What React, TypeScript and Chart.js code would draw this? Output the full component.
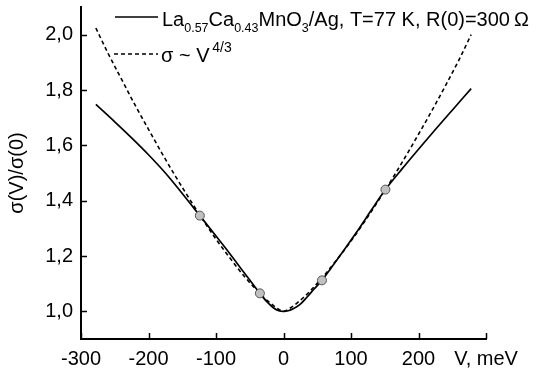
import React, { useEffect, useRef } from "react";
import { Chart, registerables } from "chart.js";

Chart.register(...registerables);

const xTickValues = [-300, -200, -100, 0, 100, 200, 300];
const yTickValues = [1.0, 1.2, 1.4, 1.6, 1.8, 2.0];
const xAxisLabel = "V, meV";
const yAxisLabel = "σ(V)/σ(0)";

const measuredV = [-278, -250, -225, -200, -175, -150, -124, -100, -80, -60, -45, -35, -25, -15, -7, 0, 7, 15, 25, 35, 45, 57, 70, 90, 110, 130, 151, 175, 200, 225, 250, 278];
const measuredSigma = [1.748, 1.685, 1.627, 1.566, 1.5, 1.426, 1.346, 1.272, 1.21, 1.145, 1.097, 1.065, 1.036, 1.013, 1.002, 1.0, 1.002, 1.01, 1.026, 1.052, 1.08, 1.112, 1.155, 1.223, 1.292, 1.365, 1.44, 1.513, 1.586, 1.657, 1.727, 1.805];

const fitV = [-278, -260, -240, -220, -200, -180, -160, -140, -120, -100, -80, -60, -40, -30, -20, -10, 0, 10, 20, 30, 40, 60, 80, 100, 120, 140, 160, 180, 200, 220, 240, 260, 278];
const fitSigma = [2.024, 1.933, 1.839, 1.746, 1.658, 1.571, 1.488, 1.409, 1.333, 1.261, 1.195, 1.132, 1.077, 1.052, 1.031, 1.012, 1.0, 1.012, 1.03, 1.051, 1.075, 1.129, 1.19, 1.254, 1.324, 1.398, 1.475, 1.556, 1.64, 1.726, 1.816, 1.909, 2.0];

const markerV = [-124, -35, 57, 151];
const markerSigma = [1.346, 1.065, 1.112, 1.44];

const legendMeasured: [string, string][] = [
  ["La", ""], ["0.57", "sub"], ["Ca", ""], ["0.43", "sub"], ["MnO", ""], ["3", "sub"], ["/Ag, T=77 K, R(0)=300\u2009Ω", ""],
];
const legendFit: [string, string][] = [["σ ~ V", ""], ["\u20094/3", "sup"]];

const FONT = "'Liberation Sans', Arial, sans-serif";

function drawRich(ctx: CanvasRenderingContext2D, x: number, baseline: number, segs: [string, string][], size: number, small: number) {
  let cx = x;
  ctx.textBaseline = "alphabetic";
  ctx.textAlign = "left";
  for (const [t, mode] of segs) {
    const fs = mode ? small : size;
    ctx.font = `${fs}px ${FONT}`;
    const dy = mode === "sub" ? 6 : mode === "sup" ? -10 : 0;
    ctx.fillText(t, cx, baseline + dy);
    cx += ctx.measureText(t).width;
  }
}

const decorPlugin = {
  id: "decor",
  afterDraw(chart: any) {
    const ctx: CanvasRenderingContext2D = chart.ctx;
    const xs = chart.scales.x;
    const ys = chart.scales.y;
    const area = chart.chartArea;
    ctx.save();
    ctx.strokeStyle = "#000";
    ctx.lineWidth = 1.5;
    ctx.setLineDash([]);
    for (const v of xTickValues) {
      const px = Math.round(xs.getPixelForValue(v)) + 0.5;
      ctx.beginPath();
      ctx.moveTo(px, area.bottom);
      ctx.lineTo(px, area.bottom - 6);
      ctx.stroke();
    }
    for (const v of yTickValues) {
      const py = Math.round(ys.getPixelForValue(v)) + 0.5;
      ctx.beginPath();
      ctx.moveTo(area.left, py);
      ctx.lineTo(area.left + 6, py);
      ctx.stroke();
    }
    // legend
    ctx.fillStyle = "#000";
    ctx.lineWidth = 1.6;
    ctx.beginPath();
    ctx.moveTo(115, 17);
    ctx.lineTo(158, 17);
    ctx.stroke();
    drawRich(ctx, 162, 26, legendMeasured, 20, 12.5);
    ctx.setLineDash([4, 3]);
    ctx.beginPath();
    ctx.moveTo(114, 54);
    ctx.lineTo(158, 54);
    ctx.stroke();
    ctx.setLineDash([]);
    drawRich(ctx, 161, 62, legendFit, 20, 14);
    ctx.restore();
  },
};

export default function App() {
  const ref = useRef<HTMLCanvasElement>(null);
  useEffect(() => {
    if (!ref.current) return;
    Chart.defaults.font.family = FONT;
    Chart.defaults.color = "#000";
    const chart = new Chart(ref.current, {
      type: "scatter",
      data: {
        datasets: [
          {
            label: "markers",
            data: markerV.map((v, i) => ({ x: v, y: markerSigma[i] })),
            showLine: false,
            pointRadius: 4.5,
            pointBackgroundColor: "#c0c0c0",
            pointBorderColor: "#555",
            pointBorderWidth: 1,
          },
          {
            label: "La0.57Ca0.43MnO3/Ag",
            data: measuredV.map((v, i) => ({ x: v, y: measuredSigma[i] })),
            showLine: true,
            pointRadius: 0,
            borderColor: "#000",
            borderWidth: 1.7,
            cubicInterpolationMode: "monotone",
          },
          {
            label: "σ ~ V^4/3",
            data: fitV.map((v, i) => ({ x: v, y: fitSigma[i] })),
            showLine: true,
            pointRadius: 0,
            borderColor: "#000",
            borderWidth: 1.6,
            borderDash: [4, 3],
            cubicInterpolationMode: "monotone",
          },
        ],
      } as any,
      options: {
        animation: false,
        responsive: true,
        maintainAspectRatio: false,
        layout: { padding: { left: 0, right: 52, top: 7, bottom: 0 } },
        plugins: { legend: { display: false }, tooltip: { enabled: false } },
        scales: {
          x: {
            type: "linear",
            min: -300,
            max: 300,
            afterBuildTicks: (s: any) => { s.ticks = xTickValues.map((v) => ({ value: v })); },
            afterFit: (s: any) => { s.height = 35; s.paddingLeft = 0; s.paddingRight = 0; },
            grid: { display: false, drawTicks: false, tickLength: 0 },
            border: { display: true, color: "#000", width: 2 },
            ticks: {
              padding: 8,
              maxRotation: 0,
              autoSkip: false,
              font: { size: 20 },
              color: "#000",
              callback: (v: any) => (v === 300 ? xAxisLabel : String(v)),
            },
          },
          y: {
            type: "linear",
            min: 0.9,
            max: 2.1,
            afterBuildTicks: (s: any) => { s.ticks = yTickValues.map((v) => ({ value: v })); },
            afterFit: (s: any) => { s.width = 81; s.paddingTop = 0; s.paddingBottom = 0; },
            grid: { display: false, drawTicks: false, tickLength: 0 },
            border: { display: true, color: "#000", width: 2 },
            title: { display: true, text: yAxisLabel, font: { size: 20 }, color: "#000", padding: { top: 5, bottom: 0 } },
            ticks: {
              padding: 8,
              autoSkip: false,
              font: { size: 20 },
              color: "#000",
              callback: (v: any) => Number(v).toFixed(1).replace(".", ","),
            },
          },
        },
      } as any,
      plugins: [decorPlugin],
    });
    return () => chart.destroy();
  }, []);
  return (
    <div style={{ position: "absolute", left: 0, top: 0, width: 538, height: 374, background: "#fff" }}>
      <canvas ref={ref} />
    </div>
  );
}
